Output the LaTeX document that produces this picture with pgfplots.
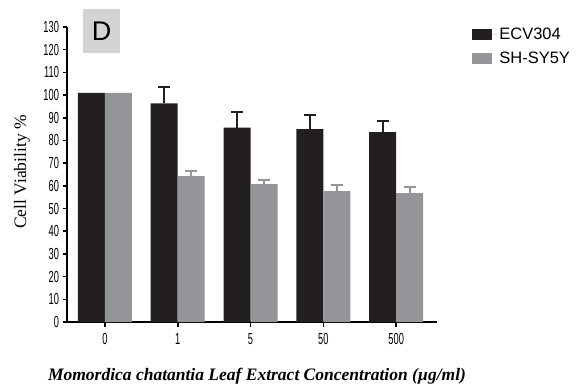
\documentclass[border=0pt]{standalone}
\usepackage{pgfplots}
\pgfplotsset{compat=1.18}
\usepackage{fontspec}
\setmainfont{Liberation Serif}
\newfontfamily\condfont[FakeStretch=0.58]{Liberation Sans}
\newfontfamily\arial{Liberation Sans}
\definecolor{barblack}{HTML}{231F20}
\definecolor{bargray}{HTML}{939598}
\definecolor{boxgray}{HTML}{D1D3D4}
\pgfplotstableread{
x y err
0 101 -1.5
1 96.3 7.1
2 85.7 6.9
3 85.0 6.3
4 83.7 4.8
}\ecv
\pgfplotstableread{
x y err
0 101 -1.5
1 64.3 2.3
2 60.8 1.6
3 57.7 2.6
4 56.8 2.7
}\shsy
\begin{document}
\begin{tikzpicture}[x=1pt,y=1pt]
\path[use as bounding box] (0,0) rectangle (578,389);
\node[fill=boxgray, minimum width=37pt, minimum height=44pt, inner sep=0pt, font=\arial\fontsize{27}{27}\selectfont] at (101.5,358) {D};
\begin{axis}[
  at={(67pt,67pt)}, anchor=south west,
  scale only axis, width=370pt, height=295pt,
  xmin=-0.52, xmax=4.56, ymin=0, ymax=130,
  axis x line*=bottom, axis y line*=left,
  axis line style={line width=1.6pt, black},
  xtick={0,...,4}, xticklabels={0,1,5,50,500},
  ytick={0,10,...,130},
  tick style={line width=1.6pt, black},
  major tick length=4.5pt,
  tick align=outside,
  ticklabel style={font=\condfont\fontsize{16}{16}\selectfont},
  xticklabel style={yshift=-3pt},
  /pgf/number format/assume math mode=true,
  ybar=0pt, bar width=27pt,
  legend image code/.code={\fill[#1] (0pt,-5.5pt) rectangle (20pt,5.5pt); \path (0pt,0pt) -- (25pt,0pt);},
  legend style={at={(axis description cs:1.095,1.005)}, anchor=north west, draw=none, fill=none,
    inner sep=0pt, font=\arial\fontsize{16.5}{16.5}\selectfont, row sep=7pt},
  legend cell align=left,
]
\addplot[draw=none, fill=barblack,
  error bars/.cd, y dir=plus, y explicit,
  error bar style={line width=2pt, barblack},
  error mark options={rotate=90, line width=2pt, barblack, mark size=6pt}]
  table[x=x, y=y, y error=err] {\ecv};
\addplot[draw=none, fill=bargray,
  error bars/.cd, y dir=plus, y explicit,
  error bar style={line width=2pt, bargray},
  error mark options={rotate=90, line width=2pt, bargray, mark size=6pt}]
  table[x=x, y=y, y error=err] {\shsy};
\legend{ECV304, SH-SY5Y}
\end{axis}
\node[rotate=90, font=\fontsize{17.5}{17.5}\selectfont] at (22,217) {Cell Viability \%};
\node[font=\bfseries\itshape\fontsize{17.5}{17.5}\selectfont] at (257,13) {Momordica chatantia Leaf Extract Concentration (µg/ml)};
\end{tikzpicture}
\end{document}
